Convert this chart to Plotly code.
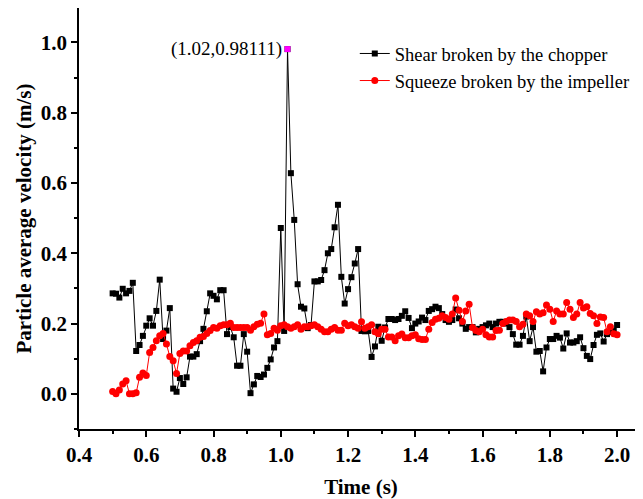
import numpy as np
import plotly.graph_objects as go

time = [round(0.5 + 0.01 * i, 2) for i in range(151)]

shear = [
    0.286, 0.285, 0.274, 0.299, 0.286, 0.293, 0.316, 0.122, 0.139, 0.165,
    0.194, 0.215, 0.194, 0.236, 0.325, 0.156, 0.180, 0.244, 0.015, 0.006,
    0.045, 0.028, 0.047, 0.106, 0.106, 0.113, 0.150, 0.185, 0.235, 0.286,
    0.279, 0.269, 0.295, 0.295, 0.170, 0.190, 0.161, 0.080, 0.080, 0.170,
    0.120, 0.002, 0.027, 0.051, 0.048, 0.055, 0.074, 0.098, 0.132, 0.150,
    0.472, 0.179, 0.98111, 0.628, 0.495, 0.312, 0.248, 0.243, 0.187, 0.196,
    0.320, 0.320, 0.324, 0.352, 0.400, 0.412, 0.474, 0.538, 0.333, 0.257,
    0.298, 0.332, 0.371, 0.412, 0.179,
    0.178, 0.179, 0.105, 0.135, 0.191, 0.151, 0.189, 0.213, 0.213, 0.210,
    0.213, 0.222, 0.235, 0.216, 0.187, 0.200, 0.206, 0.217, 0.210, 0.236,
    0.241, 0.248, 0.244,
    0.227, 0.210, 0.205, 0.210, 0.240, 0.215, 0.200, 0.185, 0.190, 0.190,
    0.175, 0.185, 0.190, 0.195, 0.200, 0.190, 0.200, 0.205, 0.205, 0.200,
    0.190, 0.170, 0.140, 0.140, 0.165, 0.220, 0.150, 0.190, 0.120, 0.122,
    0.064, 0.132, 0.156, 0.156, 0.165, 0.160, 0.129, 0.172, 0.146, 0.146,
    0.150, 0.161, 0.130, 0.108, 0.099, 0.139, 0.168, 0.172, 0.149, 0.170,
    0.176, 0.180, 0.196,
]

squeeze = [
    0.007, 0.000, 0.011, 0.028, 0.037, 0.000, 0.000, 0.003, 0.047, 0.059,
    0.052, 0.118, 0.132, 0.151, 0.165, 0.172, 0.142, 0.106, 0.094, 0.058,
    0.115, 0.122, 0.122, 0.137, 0.146, 0.151, 0.161, 0.163, 0.172, 0.180,
    0.189, 0.187, 0.194, 0.197, 0.197, 0.201, 0.189, 0.189, 0.189, 0.189,
    0.189, 0.181, 0.191, 0.198, 0.201, 0.227, 0.168, 0.172, 0.187, 0.181,
    0.194, 0.197, 0.191, 0.187, 0.191, 0.197, 0.184, 0.191, 0.191, 0.194,
    0.197, 0.191, 0.184, 0.177, 0.177, 0.184, 0.189, 0.181, 0.181, 0.201,
    0.194, 0.197, 0.191, 0.187, 0.205,
    0.187, 0.191, 0.197, 0.177, 0.171, 0.184, 0.184, 0.162, 0.162, 0.151,
    0.165, 0.170, 0.160, 0.160, 0.165, 0.168, 0.157, 0.155, 0.155, 0.184,
    0.203, 0.212, 0.215, 0.222, 0.217, 0.212, 0.227, 0.273, 0.238, 0.206,
    0.236, 0.255, 0.189, 0.180, 0.177, 0.184, 0.168, 0.162, 0.162, 0.180,
    0.181, 0.200, 0.206, 0.210, 0.210, 0.206, 0.191, 0.198, 0.227, 0.222,
    0.206, 0.234, 0.227, 0.231, 0.253, 0.241, 0.206, 0.236, 0.227, 0.227,
    0.260, 0.241, 0.217, 0.227, 0.260, 0.244, 0.248, 0.229, 0.222, 0.200,
    0.219, 0.217, 0.177, 0.191, 0.171, 0.168,
]

peak_t = [1.02]
peak_v = [0.98111]
peak_label = ["(1.02,0.98111)"]

x_ticks = [0.4, 0.6, 0.8, 1.0, 1.2, 1.4, 1.6, 1.8, 2.0]
y_ticks = [0.0, 0.2, 0.4, 0.6, 0.8, 1.0]

FONT = "Liberation Serif"

fig = go.Figure()
fig.add_trace(go.Scatter(
    x=time, y=shear, mode="lines+markers", name="Shear broken by the chopper",
    line=dict(color="black", width=1),
    marker=dict(symbol="square", size=6, color="black"),
))
fig.add_trace(go.Scatter(
    x=time, y=squeeze, mode="lines+markers", name="Squeeze broken by the impeller",
    line=dict(color="red", width=1),
    marker=dict(symbol="circle", size=7, color="red"),
))
fig.add_trace(go.Scatter(
    x=peak_t, y=peak_v, mode="markers", showlegend=False,
    marker=dict(symbol="square", size=6, color="#ff00ff"),
))
fig.add_annotation(
    x=peak_t[0], y=peak_v[0], xref="x", yref="y", text=peak_label[0],
    showarrow=False, xanchor="right", yanchor="middle", xshift=-4,
    font=dict(family=FONT, size=19, color="black"),
)

axis_common = dict(
    showgrid=False, zeroline=False, showline=True, linecolor="black", linewidth=1.5,
    ticks="outside", ticklen=6, tickwidth=1.5, tickcolor="black", automargin=False,
    tickfont=dict(family=FONT, size=21, color="black", weight="bold"),
)

fig.update_xaxes(
    range=[0.4, 2.077], tickvals=x_ticks, ticktext=[f"{v:.1f}" for v in x_ticks],
    mirror=True,
    minor=dict(ticks="outside", ticklen=3, dtick=0.1, tick0=0.4, tickcolor="black", showgrid=False),
    title=dict(text="Time (s)", font=dict(family=FONT, size=21, color="black", weight="bold"), standoff=18),
    **axis_common,
)
fig.update_yaxes(
    range=[-0.1, 1.098], tickvals=y_ticks, ticktext=[f"{v:.1f}" for v in y_ticks],
    minor=dict(ticks="outside", ticklen=3, dtick=0.1, tick0=0.0, tickcolor="black", showgrid=False),
    title=dict(text="Particle average velocity (m/s)", font=dict(family=FONT, size=21, color="black", weight="bold"), standoff=3),
    **axis_common,
)

fig.update_layout(
    width=635, height=491,
    margin=dict(l=71, r=0, t=0, b=70, autoexpand=False),
    paper_bgcolor="white", plot_bgcolor="white",
    showlegend=True,
    legend=dict(
        x=0.489, y=0.936, xanchor="left", yanchor="top",
        bgcolor="rgba(0,0,0,0)", borderwidth=0,
        font=dict(family=FONT, size=18.5, color="black"),
        tracegroupgap=0, itemwidth=30,
    ),
)

fig.write_html("out.html")
